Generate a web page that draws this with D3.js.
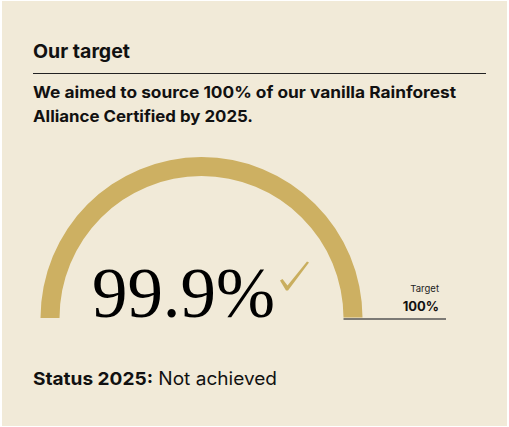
<!DOCTYPE html>
<html><head><meta charset="utf-8">
<script src="https://cdn.jsdelivr.net/npm/d3@7"></script>
<style>
html,body{margin:0;padding:0;background:#fff;}
svg{display:block;}
</style></head>
<body>
<script>
const title = "Our target";
const subtitleLines = ["We aimed to source 100% of our vanilla Rainforest", "Alliance Certified by 2025."];
const values = [99.9];
const targets = [100];
const valueLabels = ["99.9%"];
const targetLabels = ["Target", "100%"];
const statusLabel = ["Status 2025:", " Not achieved"];

const W = 509, H = 427;
const svg = d3.select("body").append("svg").attr("width", W).attr("height", H);
svg.append("rect").attr("x", 2).attr("y", 1).attr("width", W - 4).attr("height", H - 2).attr("fill", "#F1EAD8");

const sans = "Inter, 'Noto Sans', sans-serif";

svg.append("text").attr("x", 33).attr("y", 58).attr("font-family", sans).attr("font-weight", 700)
  .attr("font-size", 19).attr("fill", "#111").attr("textLength", 97).attr("lengthAdjust", "spacingAndGlyphs").text(title);
svg.append("line").attr("x1", 33).attr("x2", 486).attr("y1", 73.5).attr("y2", 73.5)
  .attr("stroke", "#222").attr("stroke-width", 1.2);
const subLens = [423, 220];
subtitleLines.forEach((t, i) => {
  svg.append("text").attr("x", 33).attr("y", 98 + i * 23.5).attr("font-family", sans).attr("font-weight", 700)
    .attr("font-size", 16).attr("fill", "#111").attr("textLength", subLens[i]).attr("lengthAdjust", "spacingAndGlyphs").text(t);
});

// gauge
const cx = 201.5, cy = 318, rOuter = 161, rInner = 142;
const scale = d3.scaleLinear().domain([0, 100]).range([-Math.PI / 2, Math.PI / 2]);
const arc = d3.arc().innerRadius(rInner).outerRadius(rOuter);
const g = svg.append("g").attr("transform", `translate(${cx},${cy})`);
g.append("path").attr("d", arc({startAngle: scale(0), endAngle: scale(values[0])})).attr("fill", "#CDB062");

// target baseline
svg.append("line").attr("x1", cx + rInner).attr("x2", 446).attr("y1", 319).attr("y2", 319)
  .attr("stroke", "#555").attr("stroke-width", 1.3);
svg.append("text").attr("x", 439).attr("y", 292).attr("text-anchor", "end").attr("font-family", sans)
  .attr("font-size", 9.5).attr("fill", "#222").text(targetLabels[0]);
svg.append("text").attr("x", 439).attr("y", 311).attr("text-anchor", "end").attr("font-family", sans)
  .attr("font-weight", 700).attr("font-size", 13).attr("fill", "#111").text(targetLabels[1]);

// value label
svg.append("text").attr("x", 92).attr("y", 317).attr("font-family", "'Liberation Serif', 'DejaVu Serif', serif")
  .attr("font-size", 71).attr("fill", "#000").attr("textLength", 183).attr("lengthAdjust", "spacingAndGlyphs").text(valueLabels[0]);

// checkmark
svg.append("path")
  .attr("d", "M280,280.5 L282.5,279 L287.5,285.5 L307,261.5 L309,262.5 L288,290.5 L286,290.5 Z")
  .attr("fill", "#C9AE5E");

// status
const st = svg.append("text").attr("x", 33).attr("y", 385).attr("font-family", sans)
  .attr("font-size", 18).attr("fill", "#111").attr("textLength", 244).attr("lengthAdjust", "spacingAndGlyphs");
st.append("tspan").attr("font-weight", 700).text(statusLabel[0]);
st.append("tspan").attr("font-weight", 400).text(statusLabel[1]);
</script>
</body></html>
